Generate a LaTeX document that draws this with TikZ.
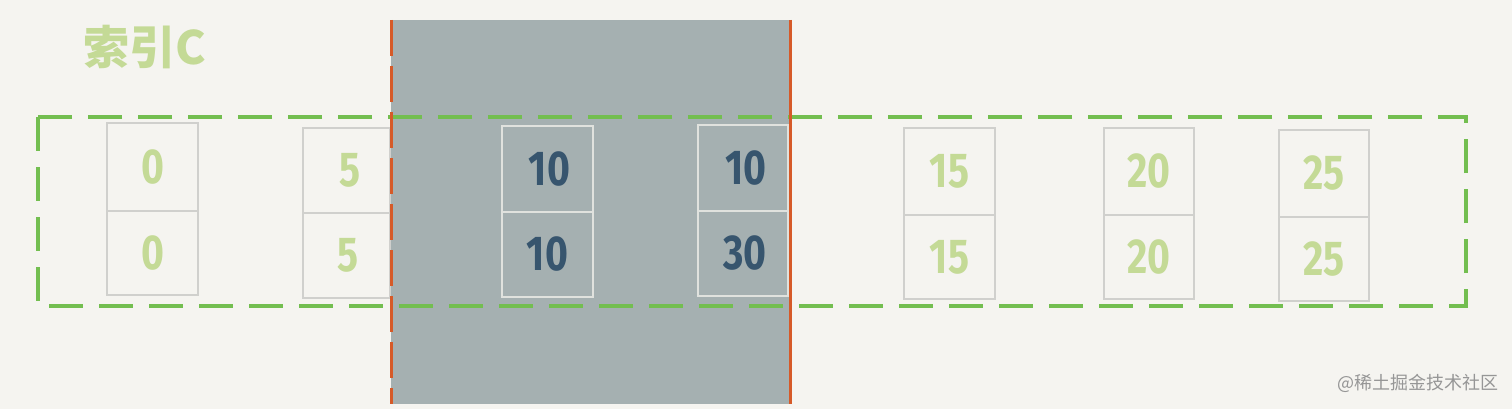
\documentclass[tikz,border=0pt]{standalone}
\usepackage{fontspec}
\newfontfamily\cjk{Noto Sans CJK SC}
\newfontfamily\hand[FakeStretch=0.8]{Fira Sans}
\definecolor{bgc}{RGB}{245,244,240}
\definecolor{grayreg}{RGB}{165,176,177}
\definecolor{orangec}{RGB}{214,90,40}
\definecolor{greend}{RGB}{115,190,80}
\definecolor{boxgray}{RGB}{208,208,205}
\definecolor{boxin}{RGB}{224,226,222}
\definecolor{numgreen}{RGB}{196,218,150}
\definecolor{numblue}{RGB}{55,85,110}
\definecolor{wmgray}{RGB}{150,150,150}
\begin{document}
\begin{tikzpicture}[x=1pt,y=-1pt,
  cell/.style={draw=boxgray, line width=2.5pt, inner sep=0pt,
    font=\hand\bfseries\fontsize{49}{49}\selectfont, text=numgreen},
  cellin/.style={cell, draw=boxin, text=numblue},
  frame/.style={draw=greend, line width=4.5pt, dash pattern=on 34pt off 16pt},
  edgedash/.style={draw=orangec, line width=3pt, dash pattern=on 36pt off 10pt},
  edgesolid/.style={draw=orangec, line width=3pt}]
\fill[bgc] (0,0) rectangle (1512,409);
\useasboundingbox (0,0) rectangle (1512,409);
% title
\node[text=numgreen, font=\cjk\bfseries\fontsize{46}{46}\selectfont] (title) at (145,47) {索引C};
% boxes outside the shaded range (left)
\node[cell, minimum width=91pt, minimum height=88pt] (a0) at (152.5,167) {0};
\node[cell, minimum width=91pt, minimum height=84pt] (b0) at (152.5,253) {0};
\node[cell, minimum width=87pt, minimum height=85pt] (a5) at (346.5,170.5) {\hspace{8pt}5};
\node[cell, minimum width=87pt, minimum height=85pt] (b5) at (346.5,255.5) {\hspace{4pt}5};
% shaded range
\coordinate (gtl) at (391,20);
\coordinate (gbr) at (791,404);
\coordinate (gbl) at (391,404);
\coordinate (rtop) at (790,20);
\coordinate (rbot) at (790,404);
\fill[grayreg] (gtl) rectangle (gbr);
% boxes outside the shaded range (right)
\node[cell, minimum width=91pt, minimum height=87pt] (a15) at (949.5,171.5) {15};
\node[cell, minimum width=91pt, minimum height=84pt] (b15) at (949.5,257) {15};
\node[cell, minimum width=90pt, minimum height=87pt] (a20) at (1149,171.5) {20};
\node[cell, minimum width=90pt, minimum height=84pt] (b20) at (1149,257) {20};
\node[cell, minimum width=90pt, minimum height=87pt] (a25) at (1324,173.5) {25};
\node[cell, minimum width=90pt, minimum height=84pt] (b25) at (1324,259) {25};
% dashed index frame
\coordinate (ftl) at (38,117);
\coordinate (fbr) at (1466,306);
\draw[frame] (ftl) rectangle (fbr);
% boxes inside the shaded range
\node[cellin, minimum width=91pt, minimum height=86pt] (a10) at (547.5,169) {\hspace{4pt}10};
\node[cellin, minimum width=91pt, minimum height=85pt] (b10) at (547.5,254.5) {10};
\node[cellin, minimum width=90pt, minimum height=86pt] (a10b) at (743,168) {\hspace{6pt}10};
\node[cellin, minimum width=90pt, minimum height=85pt] (b30) at (743,253.5) {\hspace{4pt}30};
% range edges
\draw[edgedash] (gtl) -- (gbl);
\draw[edgesolid] (rtop) -- (rbot);
% watermark
\node[text=wmgray, font=\cjk\fontsize{18}{18}\selectfont] (wm) at (1418,383) {@稀土掘金技术社区};
\end{tikzpicture}
\end{document}
